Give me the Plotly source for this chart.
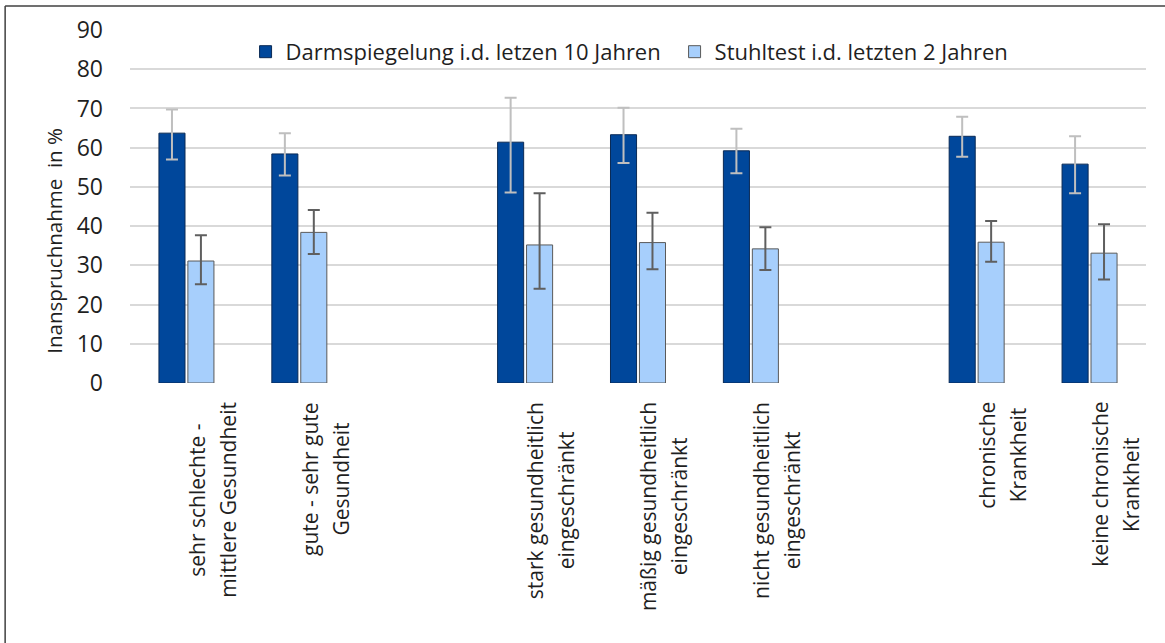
import plotly.graph_objects as go

# Survey groups (categories) in display order; blank entries separate the groups
labels = [
    "sehr schlechte -<br>mittlere Gesundheit",
    "gute - sehr gute<br>Gesundheit",
    "stark gesundheitlich<br>eingeschränkt",
    "mäßig gesundheitlich<br>eingeschränkt",
    "nicht gesundheitlich<br>eingeschränkt",
    "chronische<br>Krankheit",
    "keine chronische<br>Krankheit",
]
slot_order = [labels[0], labels[1], " ",
              labels[2], labels[3], labels[4], "  ",
              labels[5], labels[6]]

series_names = ["Darmspiegelung i.d. letzen 10 Jahren",
                "Stuhltest i.d. letzten 2 Jahren"]

# Darmspiegelung: value with lower / upper confidence bound (in %)
darm = [63.7, 58.4, 61.4, 63.3, 59.2, 62.9, 55.8]
darm_lo = [57.0, 52.9, 48.6, 56.1, 53.5, 57.7, 48.4]
darm_hi = [69.7, 63.7, 72.7, 70.2, 64.8, 67.9, 62.9]

# Stuhltest: value with lower / upper confidence bound (in %)
stuhl = [31.1, 38.4, 35.2, 35.8, 34.2, 35.9, 33.1]
stuhl_lo = [25.2, 32.9, 24.0, 29.0, 28.8, 30.9, 26.4]
stuhl_hi = [37.7, 44.1, 48.4, 43.4, 39.7, 41.3, 40.5]

y_ticks = [0, 10, 20, 30, 40, 50, 60, 70, 80, 90]
y_title = "Inanspruchnahme  in %"

FONT = "Open Sans"
TEXT = "#1f1f1f"
HIDDEN = '<span style="color:rgba(0,0,0,0)">{}</span>'


def err(v, lo, hi):
    return ([h - x for x, h in zip(v, hi)], [x - l for x, l in zip(v, lo)])


fig = go.Figure()

up, down = err(darm, darm_lo, darm_hi)
fig.add_trace(go.Bar(
    x=labels, y=darm, name=series_names[0],
    marker=dict(color="#00479b", line=dict(color="#0a2a55", width=1)),
    error_y=dict(type="data", symmetric=False, array=up, arrayminus=down,
                 color="#bfbfbf", thickness=2, width=6),
    hoverinfo="skip",
))

up, down = err(stuhl, stuhl_lo, stuhl_hi)
fig.add_trace(go.Bar(
    x=labels, y=stuhl, name=series_names[1],
    marker=dict(color="#a7cffc", line=dict(color="#5a5a5a", width=1)),
    error_y=dict(type="data", symmetric=False, array=up, arrayminus=down,
                 color="#5f5f5f", thickness=2, width=6),
    hoverinfo="skip",
))

# Rotated, centred two-line category labels under each group.
# Each line is drawn by its own annotation (the other line kept invisible so
# both share the same block geometry), which widens the line spacing a bit.
LINE_OFFSET = 1.9
for lab in labels:
    first, second = lab.split("<br>")
    variants = [(first + "<br>" + HIDDEN.format(second), -LINE_OFFSET),
                (HIDDEN.format(first) + "<br>" + second, LINE_OFFSET)]
    for txt, dx in variants:
        fig.add_annotation(
            x=lab, xref="x", y=0, yref="paper",
            text=txt, textangle=-90, align="center",
            xanchor="center", yanchor="top", xshift=25.5 + dx, yshift=-17,
            showarrow=False, font=dict(family=FONT, size=21, color=TEXT),
        )

# Y-axis title
fig.add_annotation(
    x=-0.0752, xref="paper", y=0.402, yref="paper",
    text=y_title, textangle=-90, xanchor="center", yanchor="middle",
    showarrow=False, font=dict(family=FONT, size=20.5, color=TEXT),
)

# Outer frame lines (left and top edge)
fig.add_shape(type="line", xref="paper", yref="paper",
              x0=-0.1229, x1=1.02, y0=1.068, y1=1.068,
              line=dict(color="#404040", width=1.5))
fig.add_shape(type="line", xref="paper", yref="paper",
              x0=-0.1229, x1=-0.1229, y0=-0.75, y1=1.068,
              line=dict(color="#404040", width=1.5))

fig.update_layout(
    width=1165, height=643,
    margin=dict(l=129.5, r=18.5, t=30, b=260),
    paper_bgcolor="white", plot_bgcolor="white",
    barmode="group", bargap=0.487, bargroupgap=0.1,
    font=dict(family=FONT, size=22, color=TEXT),
    showlegend=True,
    legend=dict(orientation="h", x=0.536, xanchor="center",
                y=0.938, yanchor="middle", bgcolor="rgba(0,0,0,0)",
                font=dict(family=FONT, size=22, color=TEXT),
                itemwidth=30, entrywidth=384, entrywidthmode="pixels",
                traceorder="normal"),
    xaxis=dict(type="category", categoryorder="array", categoryarray=slot_order,
               range=[-0.5, len(slot_order) - 0.5],
               showticklabels=False, showgrid=False, zeroline=False,
               showline=False, ticks=""),
    yaxis=dict(range=[0, 90], tickvals=y_ticks, showgrid=True,
               gridcolor="#d9d9d9", gridwidth=1.5, zeroline=False,
               showline=False, ticks="", ticklabelstandoff=26,
               tickfont=dict(family=FONT, size=23, color=TEXT)),
)

fig.write_html("out.html")
